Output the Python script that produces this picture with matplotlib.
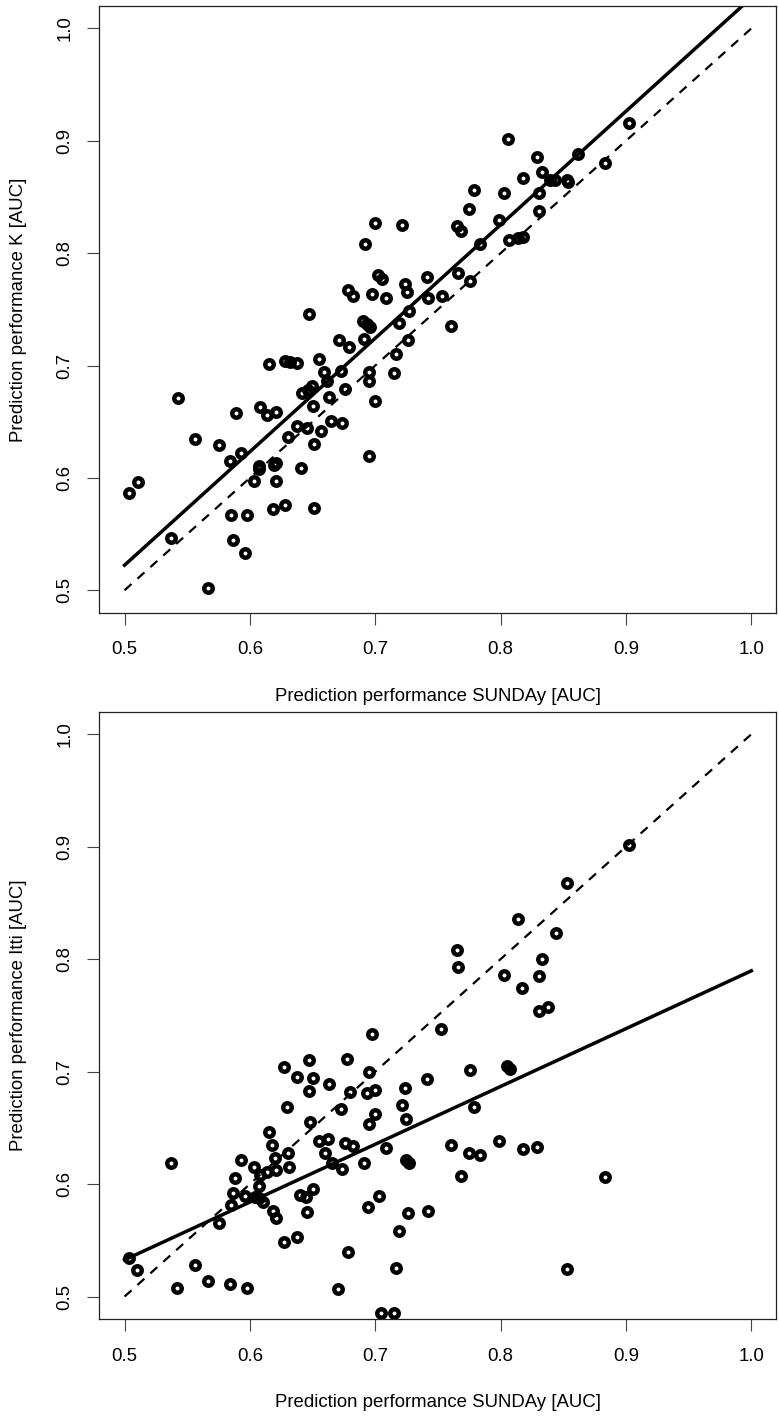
import matplotlib
matplotlib.use("Agg")
import matplotlib.pyplot as plt
import numpy as np

plt.rcParams['font.family'] = ['Liberation Sans', 'DejaVu Sans']

# --- top panel: SUNDAy vs K
sunday_top = [0.5425, 0.5032, 0.5106, 0.5563, 0.5753, 0.5886, 0.6080, 0.6133, 0.6208, 0.5840,
              0.5928, 0.6072, 0.6072, 0.6189, 0.6208, 0.6032, 0.6208, 0.6405, 0.6377, 0.6457,
              0.6301, 0.6508, 0.6569, 0.6649, 0.6737, 0.6630, 0.6756, 0.6417, 0.6497, 0.6503,
              0.6617, 0.5846, 0.5974, 0.6186, 0.6277, 0.6511, 0.5367, 0.5867, 0.5963, 0.5665,
              0.7750, 0.7987, 0.8304, 0.6995, 0.7211, 0.6915, 0.7650, 0.7682, 0.7833, 0.8067,
              0.8141, 0.8176, 0.7022, 0.7054, 0.7415, 0.7662, 0.7756, 0.6780, 0.6820, 0.6971,
              0.7085, 0.7239, 0.7251, 0.7423, 0.7530, 0.6473, 0.6902, 0.6934, 0.6958, 0.7269,
              0.7189, 0.7604, 0.6708, 0.6790, 0.6912, 0.7263, 0.6551, 0.6724, 0.6593, 0.6952,
              0.7163, 0.7149, 0.6952, 0.6995, 0.9022, 0.8620, 0.8836, 0.8288, 0.8176, 0.8328,
              0.8394, 0.8434, 0.8528, 0.8538, 0.8306, 0.8061, 0.8030, 0.7790, 0.6947, 0.6149,
              0.6277, 0.6317, 0.6378, 0.6463]
k_auc = [0.6711, 0.5866, 0.5960, 0.6349, 0.6296, 0.6578, 0.6631, 0.6563, 0.6587, 0.6153,
         0.6222, 0.6109, 0.6079, 0.6118, 0.6135, 0.5975, 0.5975, 0.6088, 0.6465, 0.6444,
         0.6361, 0.6302, 0.6414, 0.6503, 0.6489, 0.6720, 0.6792, 0.6756, 0.6815, 0.6643,
         0.6866, 0.5672, 0.5666, 0.5726, 0.5761, 0.5732, 0.5467, 0.5450, 0.5334, 0.5020,
         0.8397, 0.8299, 0.8379, 0.8268, 0.8250, 0.8083, 0.8240, 0.8201, 0.8083, 0.8115,
         0.8136, 0.8145, 0.7809, 0.7774, 0.7789, 0.7825, 0.7750, 0.7670, 0.7616, 0.7640,
         0.7598, 0.7727, 0.7652, 0.7598, 0.7620, 0.7459, 0.7400, 0.7373, 0.7346, 0.7489,
         0.7379, 0.7349, 0.7231, 0.7166, 0.7237, 0.7224, 0.7061, 0.6948, 0.6943, 0.6939,
         0.7103, 0.6934, 0.6859, 0.6681, 0.9160, 0.8878, 0.8804, 0.8854, 0.8671, 0.8720,
         0.8655, 0.8655, 0.8655, 0.8637, 0.8531, 0.9020, 0.8531, 0.8560, 0.6191, 0.7014,
         0.7037, 0.7028, 0.7023, 0.6785]

# --- bottom panel: SUNDAy vs Itti
sunday_bot = [0.6271, 0.6473, 0.6777, 0.6947, 0.6373, 0.6500, 0.6468, 0.6628, 0.6796, 0.6931,
              0.6998, 0.6293, 0.6729, 0.6481, 0.6950, 0.6149, 0.6176, 0.6548, 0.6622, 0.6756,
              0.6822, 0.6303, 0.6202, 0.5926, 0.6032, 0.6138, 0.6208, 0.6309, 0.6596, 0.6657,
              0.6734, 0.6914, 0.5367, 0.5883, 0.6077, 0.6072, 0.5867, 0.5963, 0.6042, 0.6072,
              0.6104, 0.5846, 0.6397, 0.6449, 0.6503, 0.6457, 0.6184, 0.6208, 0.5750, 0.6271,
              0.6375, 0.6782, 0.6944, 0.5032, 0.5101, 0.5559, 0.5665, 0.5838, 0.5974, 0.5420,
              0.6702, 0.9025, 0.8528, 0.8136, 0.8440, 0.7652, 0.7662, 0.8328, 0.8027, 0.8306,
              0.8168, 0.8306, 0.8376, 0.7524, 0.6971, 0.7239, 0.7415, 0.7756, 0.8051, 0.8071,
              0.7211, 0.7243, 0.6995, 0.7790, 0.7083, 0.7245, 0.7269, 0.7604, 0.7748, 0.7836,
              0.7990, 0.8176, 0.8288, 0.7684, 0.8836, 0.7027, 0.7263, 0.7423, 0.7189, 0.7163,
              0.8532, 0.7043, 0.7149]
itti_auc = [0.7044, 0.7104, 0.7110, 0.6993, 0.6950, 0.6941, 0.6828, 0.6891, 0.6817, 0.6808,
            0.6837, 0.6689, 0.6668, 0.6550, 0.6533, 0.6461, 0.6348, 0.6387, 0.6399, 0.6369,
            0.6340, 0.6275, 0.6230, 0.6215, 0.6156, 0.6111, 0.6126, 0.6156, 0.6275, 0.6186,
            0.6132, 0.6186, 0.6186, 0.6052, 0.6082, 0.5987, 0.5919, 0.5895, 0.5889, 0.5877,
            0.5842, 0.5815, 0.5904, 0.5889, 0.5957, 0.5750, 0.5762, 0.5700, 0.5658, 0.5489,
            0.5528, 0.5397, 0.5800, 0.5341, 0.5237, 0.5276, 0.5142, 0.5113, 0.5075, 0.5075,
            0.5068, 0.9015, 0.8675, 0.8357, 0.8230, 0.8082, 0.7933, 0.8002, 0.7860, 0.7853,
            0.7741, 0.7540, 0.7572, 0.7382, 0.7332, 0.6858, 0.6935, 0.7015, 0.7051, 0.7024,
            0.6704, 0.6582, 0.6621, 0.6689, 0.6319, 0.6215, 0.6188, 0.6346, 0.6280, 0.6262,
            0.6387, 0.6313, 0.6333, 0.6073, 0.6067, 0.5895, 0.5741, 0.5762, 0.5584, 0.5258,
            0.5249, 0.4855, 0.4855]

# regression lines (value at x=0.5, slope)
k_fit = [0.5223, 1.010]
itti_fit = [0.5326, 0.514]

ticks = [0.5, 0.6, 0.7, 0.8, 0.9, 1.0]
tick_labels = ["0.5", "0.6", "0.7", "0.8", "0.9", "1.0"]
xlab = "Prediction performance SUNDAy [AUC]"
ylabs = ["Prediction performance K [AUC]", "Prediction performance Itti [AUC]"]

fig = plt.figure(figsize=(7.79, 14.18), dpi=100)
ax1 = fig.add_axes([0.1277, 0.5679, 0.869, 0.4279])
ax2 = fig.add_axes([0.1277, 0.0698, 0.869, 0.4283])

panels = [(ax1, sunday_top, k_auc, k_fit, ylabs[0]),
          (ax2, sunday_bot, itti_auc, itti_fit, ylabs[1])]

for ax, xs, ys, fit, ylab in panels:
    # identity line
    ax.plot([0.5, 1.0], [0.5, 1.0], color='black', lw=1.6, ls=(0, (4.2, 3.6)))
    # fitted line
    fx = np.array([0.5, 1.0])
    ax.plot(fx, fit[0] + fit[1] * (fx - 0.5), color='black', lw=2.5)
    ax.plot(xs, ys, 'o', ms=6.1, mew=3.2, mec='black', mfc='none', ls='none')

    ax.set_xlim(0.48, 1.02)
    ax.set_ylim(0.48, 1.02)
    ax.set_xticks(ticks)
    ax.set_xticklabels(tick_labels)
    ax.set_yticks(ticks)
    ax.set_yticklabels(tick_labels, rotation=90, va='center')
    ax.tick_params(length=8.7, width=0.8, color='#444444', labelsize=13.4)
    ax.tick_params(axis='x', pad=12)
    ax.tick_params(axis='y', pad=10)
    for s in ax.spines.values():
        s.set_linewidth(0.9)
        s.set_color('#222222')

    ax.set_xlabel(xlab, fontsize=13.4)
    ax.xaxis.set_label_coords(0.5, -0.1373)
    ax.xaxis.label.set_va('center')
    ax.set_ylabel(ylab, fontsize=13.4)
    ax.yaxis.set_label_coords(-0.1196, 0.5)
    ax.yaxis.label.set_va('center')

fig.savefig("out.png", dpi=100)
